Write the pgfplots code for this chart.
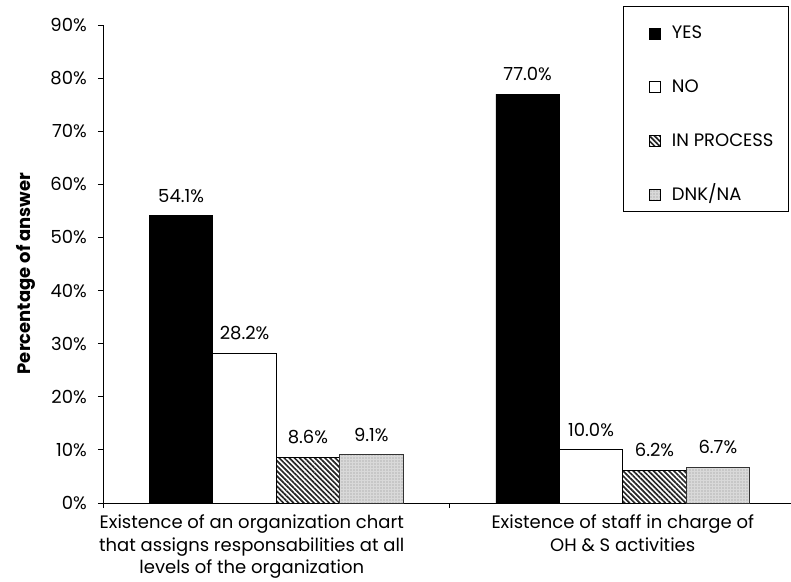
\documentclass[border=0pt]{standalone}
\usepackage{fontspec}
\setmainfont{Poppins}
\usepackage{pgfplots}
\pgfplotsset{compat=1.18}
\usetikzlibrary{patterns.meta}
\pgfplotsset{
  mylegend/.style={legend image code/.code={\path (0pt,0pt); \draw[##1, line width=0.8pt, draw=black] (11pt,-11.5pt) rectangle (22pt,-0.5pt);}},
}
\begin{document}
\fontsize{18}{22}\selectfont
\begin{tikzpicture}
\path[use as bounding box] (-103pt,-78pt) rectangle (688pt,503pt);
\begin{axis}[
  at={(0pt,0pt)}, anchor=south west,
  scale only axis, width=688pt, height=478pt,
  xmin=-0.5, xmax=1.4856, ymin=0, ymax=90,
  axis x line=bottom, axis y line=left,
  axis line style={-, line width=0.8pt, black},
  ybar=0pt, bar width=0.183,
  ytick={0,10,...,90},
  yticklabel={\pgfmathprintnumber{\tick}\%},
  yticklabel style={xshift=-5pt},
  /pgf/number format/assume math mode=true,
  xtick={-0.5,0.5,1.5}, xticklabels={},
  extra x ticks={-0.0707,1},
  extra x tick labels={{Existence of an organization chart\\that assigns responsabilities at all\\levels of the organization},{Existence of staff in charge of\\OH \& S activities}},
  extra x tick style={major tick length=0pt, tick label style={align=center, font=\fontsize{18}{22.5}\selectfont, yshift=-6pt}},
  tick align=outside, major tick length=5pt,
  tick style={black, line width=0.8pt},
  tick label style={font=\fontsize{18}{22}\selectfont},
  ylabel={\bfseries Percentage of answer},
  ylabel style={at={(axis description cs:-0.112,0.48)}, anchor=center, font=\fontsize{18}{22}\selectfont},
  nodes near coords={\pgfmathprintnumber[fixed,fixed zerofill,precision=1]{\pgfplotspointmeta}\%},
  every node near coord/.append style={font=\fontsize{18}{22}\selectfont, yshift=7pt, black},
  legend style={at={(0.997,1.0397)}, anchor=north east, draw=black, line width=0.8pt,
    inner xsep=15pt, inner ysep=10pt, /tikz/row sep=31pt, /tikz/column sep=11pt,
    nodes={inner sep=0pt, text height=22pt, text depth=0pt},
    font=\fontsize{18}{22}\selectfont},
  legend cell align=left,
]
\addplot[fill=black, draw=black, line width=0.8pt, mylegend] coordinates {(0,54.1) (1,77.0)};
\addplot[fill=white, draw=black, line width=0.8pt, mylegend] coordinates {(0,28.2) (1,10.0)};
\addplot[fill=white, draw=black, line width=0.8pt, pattern={Lines[angle=-45, distance=3.6pt, line width=1.7pt]}, pattern color=black!85, mylegend] coordinates {(0,8.6) (1,6.2)};
\addplot[fill=black!15, draw=black!80, line width=0.8pt, postaction={pattern={Dots[distance=3pt, radius=0.65pt]}, pattern color=black!45}, mylegend] coordinates {(0,9.1) (1,6.7)};
\legend{YES, NO, IN PROCESS, DNK/NA}
\end{axis}
\end{tikzpicture}
\end{document}
